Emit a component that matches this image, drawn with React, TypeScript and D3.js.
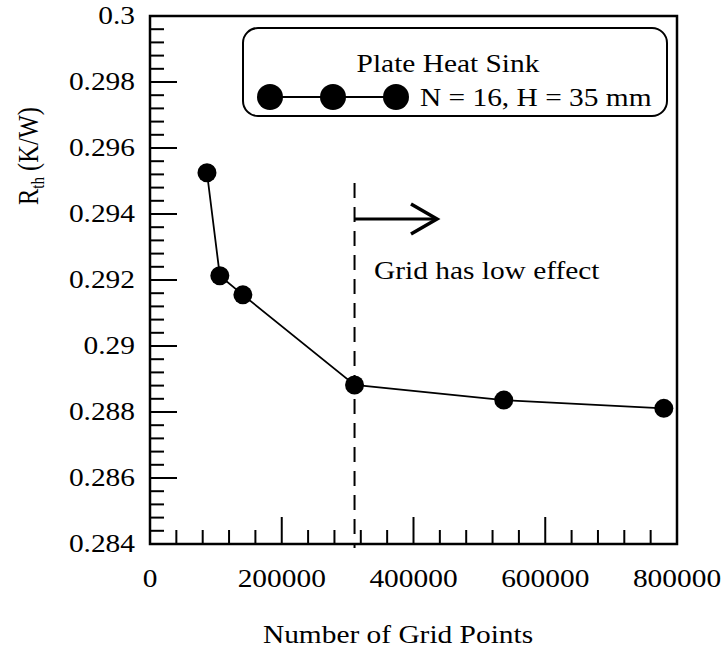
import React from "react";
import * as d3 from "d3";

const gridPoints = [86500, 106000, 141000, 310500, 537000, 780000];
const rthValues = [0.29525, 0.29213, 0.29155, 0.28882, 0.28836, 0.28811];
const xTickValues = [0, 200000, 400000, 600000, 800000];
const yTickValues = [0.284, 0.286, 0.288, 0.29, 0.292, 0.294, 0.296, 0.298, 0.3];
const thresholdX = 310500;
const legendTitle = "Plate Heat Sink";
const legendLabel = "N = 16, H = 35 mm";
const annotation = "Grid has low effect";
const xTitle = "Number of Grid Points";

const W = 721, H = 652;
const L = 150, R = 677, T = 16, B = 544;
const FONT = "'Liberation Serif', 'Times New Roman', serif";
const FS = 24.5;
const SX = 1.2;

const T_ = ({ x, y, anchor = "start", size = FS, children }: any) => (
  <text
    transform={`translate(${x},${y}) scale(${SX},1)`}
    textAnchor={anchor}
    fontFamily={FONT}
    fontSize={size}
    fill="#000"
  >
    {children}
  </text>
);

export default function App() {
  const x = d3.scaleLinear().domain([0, 800000]).range([L, R]);
  const y = d3.scaleLinear().domain([0.284, 0.3]).range([B, T]);
  const xMinor = d3.range(0, 800001, 40000);
  const yMinor = d3.range(0, 41).map((i) => 0.284 + i * 0.0004);
  const line = d3
    .line<number>()
    .x((_, i) => x(gridPoints[i]))
    .y((d) => y(d));
  const fmt = (v: number) => String(+v.toFixed(3));

  const lx = [270, 333, 396];
  const ly = 97;

  return (
    <svg
      width={W}
      height={H}
      style={{ position: "absolute", left: 0, top: 0, background: "#fff" }}
    >
      <rect x={0} y={0} width={W} height={H} fill="#fff" />
      {xMinor.map((v) => {
        const major = Math.abs(v % 200000) < 1;
        return (
          <line
            key={"xm" + v}
            x1={x(v)}
            x2={x(v)}
            y1={B}
            y2={B - (major ? 27 : 14)}
            stroke="#000"
            strokeWidth={2}
          />
        );
      })}
      {yMinor.map((v, i) => {
        const major = i % 5 === 0;
        return (
          <line
            key={"ym" + i}
            x1={L}
            x2={L + (major ? 27 : 14)}
            y1={y(v)}
            y2={y(v)}
            stroke="#000"
            strokeWidth={2}
          />
        );
      })}
      <path
        d={`M${L},${T}H${R}V${B}H${L}Z`}
        fill="none"
        stroke="#000"
        strokeWidth={2.5}
      />
      {yTickValues.map((v) => (
        <T_ key={"yl" + v} x={135} y={y(v) + 8} anchor="end">
          {fmt(v)}
        </T_>
      ))}
      {xTickValues.map((v) => (
        <T_ key={"xl" + v} x={x(v)} y={587} anchor="middle">
          {String(v)}
        </T_>
      ))}
      <T_ x={398} y={643} anchor="middle">
        {xTitle}
      </T_>
      <text
        transform={`translate(38,156) scale(${SX},1) rotate(-90)`}
        textAnchor="middle"
        fontFamily={FONT}
        fontSize={FS}
        fill="#000"
      >
        R
        <tspan fontSize={15} dy={5}>
          th
        </tspan>
        <tspan dy={-5}> (K/W)</tspan>
      </text>
      <line
        x1={x(thresholdX)}
        x2={x(thresholdX)}
        y1={183}
        y2={548}
        stroke="#000"
        strokeWidth={2}
        strokeDasharray="15,9"
      />
      <line x1={x(thresholdX)} x2={436} y1={219} y2={219} stroke="#000" strokeWidth={3} />
      <path
        d="M411,204L437,219L411,234"
        fill="none"
        stroke="#000"
        strokeWidth={3.5}
      />
      <T_ x={374} y={279}>
        {annotation}
      </T_>
      <path d={line(rthValues) || ""} fill="none" stroke="#000" strokeWidth={1.8} />
      {rthValues.map((v, i) => (
        <circle key={"p" + i} cx={x(gridPoints[i])} cy={y(v)} r={9.5} fill="#000" />
      ))}
      <rect
        x={243}
        y={28}
        width={424}
        height={88}
        rx={15}
        fill="#fff"
        stroke="#000"
        strokeWidth={2}
      />
      <T_ x={448} y={72} anchor="middle">
        {legendTitle}
      </T_>
      <line x1={lx[0]} x2={lx[2]} y1={ly} y2={ly} stroke="#000" strokeWidth={1.8} />
      {lx.map((cx) => (
        <circle key={"lg" + cx} cx={cx} cy={ly} r={13} fill="#000" />
      ))}
      <T_ x={420} y={106}>
        {legendLabel}
      </T_>
    </svg>
  );
}
